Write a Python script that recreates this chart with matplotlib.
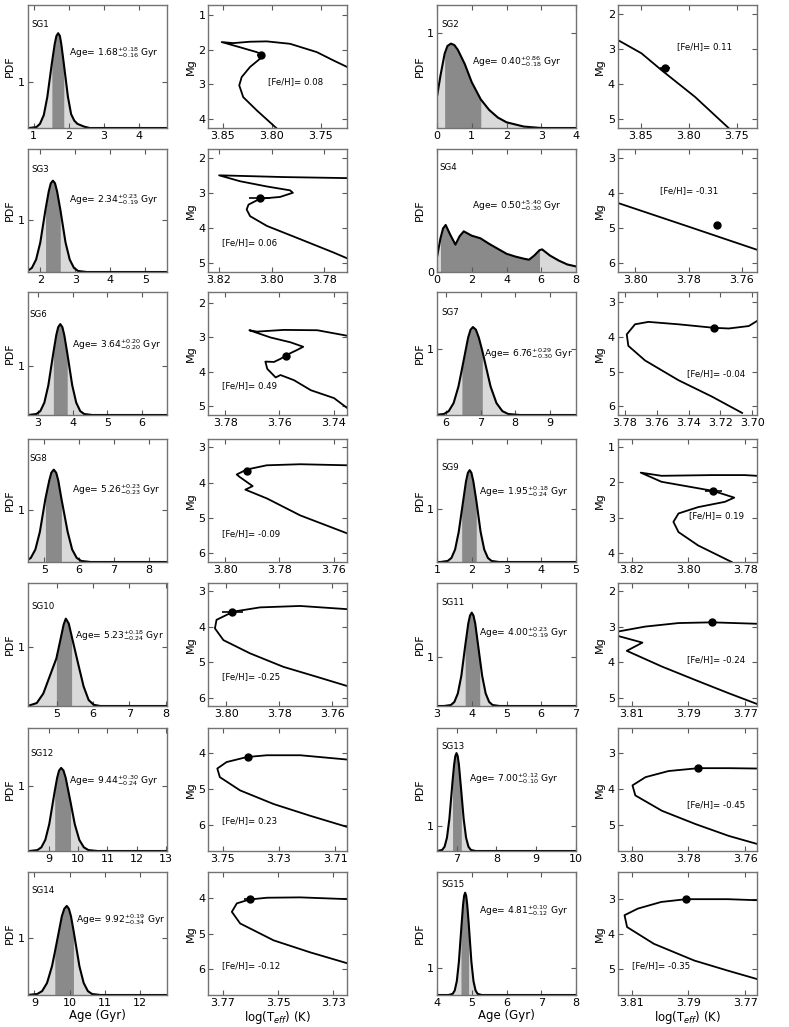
import matplotlib
matplotlib.use("Agg")
import matplotlib.pyplot as plt
from matplotlib.ticker import MultipleLocator, FormatStrFormatter
import numpy as np

plt.rcParams['mathtext.default'] = 'regular'

# ---- stars (panel order: row by row, left pair then right pair) ----
names = ['SG1', 'SG2', 'SG3', 'SG4', 'SG6', 'SG7', 'SG8',
         'SG9', 'SG10', 'SG11', 'SG12', 'SG13', 'SG14', 'SG15']
ages = [1.68, 0.40, 2.34, 0.50, 3.64, 6.76, 5.26, 1.95, 5.23, 4.00, 9.44, 7.00, 9.92, 4.81]
age_hi = [0.18, 0.86, 0.23, 5.40, 0.20, 0.29, 0.23, 0.18, 0.18, 0.23, 0.30, 0.12, 0.19, 0.10]
age_lo = [0.16, 0.18, 0.19, 0.30, 0.20, 0.30, 0.23, 0.24, 0.24, 0.19, 0.24, 0.10, 0.34, 0.12]
feh = ['0.08', '0.11', '0.06', '-0.31', '0.49', '-0.04', '-0.09',
       '0.19', '-0.25', '-0.24', '0.23', '-0.45', '-0.12', '-0.35']

# ---- age PDFs ----
pdf_age = [
    [0.83, 0.87, 1.08, 1.18, 1.29, 1.39, 1.52, 1.60, 1.65, 1.70, 1.75, 1.79, 1.86, 1.98, 2.07, 2.16,
     2.25, 2.44, 2.60, 4.80],
    [0, 0.1, 0.22, 0.3, 0.4, 0.5, 0.6, 0.8, 1.0, 1.26, 1.5, 1.75, 2.0, 2.5, 3.0, 4.0],
    [1.40, 1.64, 1.76, 1.88, 2.00, 2.15, 2.24, 2.30, 2.36, 2.42, 2.48, 2.57, 2.72, 2.84, 2.96, 3.08,
     3.32, 5.61],
    [0, 0.2, 0.35, 0.5, 0.75, 1.06, 1.3, 1.54, 2.0, 2.5, 3.0, 3.5, 4.0, 4.5, 5.0, 5.3, 5.6, 5.9,
     6.05, 6.5, 7.0, 7.5, 8.0],
    [2.70, 2.72, 2.95, 3.065, 3.18, 3.295, 3.44, 3.525, 3.58, 3.64, 3.70, 3.755, 3.84, 3.985, 4.10,
     4.215, 4.33, 4.56, 6.71],
    [5.66, 5.94, 6.08, 6.22, 6.36, 6.46, 6.64, 6.71, 6.78, 6.865, 6.95, 7.05, 7.29, 7.46, 7.63, 7.80,
     8.14, 9.76],
    [4.21, 4.48, 4.61, 4.74, 4.87, 5.03, 5.14, 5.20, 5.27, 5.34, 5.40, 5.49, 5.67, 5.80, 5.93, 6.06,
     6.33, 8.52],
    [1.0, 1.10, 1.31, 1.415, 1.52, 1.625, 1.71, 1.835, 1.89, 1.94, 1.99, 2.045, 2.13, 2.255, 2.36,
     2.465, 2.57, 2.78, 5.0],
    [4.20, 4.45, 4.63, 4.77, 4.99, 5.10, 5.19, 5.25, 5.33, 5.41, 5.61, 5.74, 5.88, 6.02, 6.20, 8.03],
    [3.0, 3.20, 3.40, 3.50, 3.60, 3.70, 3.81, 3.90, 3.95, 4.00, 4.05, 4.10, 4.23, 4.30, 4.40, 4.50,
     4.60, 4.80, 7.0],
    [8.28, 8.34, 8.61, 8.745, 8.88, 9.015, 9.20, 9.285, 9.35, 9.42, 9.50, 9.575, 9.74, 9.885, 10.04,
     10.195, 10.35, 10.66, 13.02],
    [6.51, 6.52, 6.64, 6.70, 6.76, 6.82, 6.90, 6.94, 6.97, 7.00, 7.03, 7.06, 7.12, 7.18, 7.24, 7.30,
     7.36, 7.48, 10.0],
    [8.80, 9.08, 9.22, 9.36, 9.50, 9.58, 9.78, 9.85, 9.92, 9.98, 10.04, 10.11, 10.28, 10.40, 10.52,
     10.64, 10.88, 12.76],
    [4.0, 4.33, 4.45, 4.51, 4.57, 4.63, 4.69, 4.75, 4.78, 4.81, 4.84, 4.87, 4.91, 4.99, 5.05, 5.11,
     5.17, 5.29, 8.0],
]
pdf_val = [
    [0, 0, 0.02, 0.09, 0.28, 0.67, 1.40, 1.81, 1.99, 2.05, 1.99, 1.81, 1.40, 0.67, 0.30, 0.16,
     0.09, 0.03, 0, 0],
    [0.33, 0.55, 0.78, 0.86, 0.885, 0.87, 0.82, 0.67, 0.48, 0.30, 0.19, 0.11, 0.06, 0.015, 0.0, 0.0],
    [0, 0.02, 0.08, 0.24, 0.57, 1.21, 1.55, 1.71, 1.76, 1.71, 1.55, 1.21, 0.57, 0.24, 0.08, 0.02,
     0, 0],
    [0.075, 0.17, 0.22, 0.237, 0.19, 0.138, 0.18, 0.205, 0.183, 0.17, 0.142, 0.117, 0.092, 0.078,
     0.067, 0.062, 0.083, 0.11, 0.114, 0.083, 0.058, 0.038, 0.028],
    [0, 0, 0.02, 0.08, 0.25, 0.60, 1.26, 1.62, 1.78, 1.84, 1.78, 1.62, 1.26, 0.60, 0.25, 0.08, 0.02,
     0, 0],
    [0, 0.015, 0.059, 0.18, 0.43, 0.69, 1.17, 1.29, 1.33, 1.29, 1.17, 0.97, 0.43, 0.18, 0.059,
     0.015, 0, 0],
    [0, 0.02, 0.08, 0.24, 0.58, 1.22, 1.57, 1.72, 1.78, 1.72, 1.57, 1.22, 0.58, 0.24, 0.08, 0.02,
     0, 0],
    [0, 0, 0.02, 0.077, 0.235, 0.57, 0.96, 1.53, 1.69, 1.74, 1.69, 1.53, 1.17, 0.57, 0.235, 0.077,
     0.02, 0, 0],
    [0, 0.05, 0.21, 0.44, 0.80, 1.11, 1.37, 1.47, 1.39, 1.18, 0.66, 0.33, 0.10, 0.02, 0, 0],
    [0, 0, 0.02, 0.083, 0.255, 0.61, 1.21, 1.67, 1.83, 1.89, 1.83, 1.67, 0.98, 0.61, 0.255, 0.083,
     0.02, 0, 0],
    [0, 0, 0.014, 0.056, 0.17, 0.41, 0.91, 1.12, 1.23, 1.27, 1.23, 1.12, 0.75, 0.41, 0.17, 0.056,
     0.014, 0, 0],
    [0, 0, 0.043, 0.17, 0.53, 1.27, 2.77, 3.44, 3.78, 3.9, 3.78, 3.44, 2.37, 1.27, 0.53, 0.17,
     0.043, 0, 0],
    [0, 0.017, 0.068, 0.21, 0.50, 0.74, 1.37, 1.50, 1.55, 1.50, 1.37, 1.13, 0.50, 0.21, 0.068,
     0.017, 0, 0],
    [0, 0, 0.042, 0.17, 0.52, 1.25, 2.35, 3.40, 3.74, 3.86, 3.74, 3.40, 2.74, 1.25, 0.52, 0.17,
     0.042, 0, 0],
]
pdf_xlim = [(0.83, 4.80), (0, 4), (1.64, 5.61), (0, 8), (2.70, 6.71), (5.74, 9.76), (4.52, 8.52),
            (1, 5), (4.20, 8.03), (3, 7), (8.28, 13.02), (6.51, 10.0), (8.81, 12.76), (4, 8)]
pdf_ymax = [2.66, 1.29, 2.37, 0.62, 2.49, 1.86, 2.37, 2.33, 2.07, 2.49, 1.88, 4.9, 2.14, 4.64]

# ---- isochrones and stars in the HR diagram ----
iso_teff = [
    [3.7227, 3.7368, 3.7538, 3.7812, 3.8051, 3.8223, 3.8394, 3.8513, 3.8325, 3.8154, 3.8086, 3.8120,
     3.8223, 3.8308, 3.8333, 3.8292, 3.8154, 3.7950],
    [3.8743, 3.8496, 3.8287, 3.7939, 3.7588],
    [3.7712, 3.7955, 3.8200, 3.8120, 3.8018, 3.7930, 3.7919, 3.7968, 3.8044, 3.8088, 3.8095, 3.8082,
     3.8018, 3.7891, 3.7765, 3.7712],
    [3.8065, 3.7800, 3.7545],
    [3.7349, 3.7460, 3.7584, 3.7683, 3.7711, 3.7633, 3.7559, 3.7512, 3.7534, 3.7571, 3.7596, 3.7620,
     3.7652, 3.7645, 3.7614, 3.7596, 3.7546, 3.7484, 3.7398, 3.7349],
    [3.6971, 3.7021, 3.7147, 3.7242, 3.7463, 3.7653, 3.7737, 3.7789, 3.7779, 3.7674, 3.7463, 3.7253, 3.7063],
    [3.7549, 3.7723, 3.7847, 3.7921, 3.7958, 3.7947, 3.7899, 3.7926, 3.7846, 3.7723, 3.7549],
    [3.7760, 3.7802, 3.7919, 3.8095, 3.8168, 3.8095, 3.7913, 3.7839, 3.7872, 3.7966, 3.8035, 3.8053,
     3.8035, 3.7966, 3.7848],
    [3.7543, 3.7721, 3.7872, 3.7973, 3.8036, 3.8042, 3.8010, 3.7910, 3.7784, 3.7658, 3.7543],
    [3.7660, 3.7817, 3.7935, 3.8053, 3.8149, 3.8180, 3.8149, 3.8062, 3.8117, 3.7994, 3.7876, 3.7759, 3.7660],
    [3.7057, 3.7224, 3.7343, 3.7414, 3.7486, 3.7519, 3.7510, 3.7438, 3.7319, 3.7188, 3.7057],
    [3.7560, 3.7659, 3.7765, 3.7870, 3.7951, 3.7997, 3.7987, 3.7893, 3.7775, 3.7658, 3.7560],
    [3.7250, 3.7420, 3.7540, 3.7603, 3.7649, 3.7667, 3.7637, 3.7516, 3.7384, 3.7250],
    [3.7660, 3.7761, 3.7908, 3.7996, 3.8078, 3.8125, 3.8116, 3.8022, 3.7880, 3.7762, 3.7660],
]
iso_mg = [
    [2.50, 2.31, 2.07, 1.83, 1.76, 1.77, 1.81, 1.78, 1.93, 2.07, 2.16, 2.26, 2.50, 2.79, 3.03, 3.37, 3.75, 4.27],
    [2.74, 3.12, 3.60, 4.36, 5.25],
    [2.57, 2.54, 2.49, 2.66, 2.81, 2.92, 2.99, 3.11, 3.16, 3.33, 3.47, 3.66, 3.94, 4.32, 4.70, 4.87],
    [4.28, 4.96, 5.62],
    [2.95, 2.79, 2.78, 2.83, 2.79, 3.00, 3.14, 3.27, 3.36, 3.50, 3.62, 3.71, 3.70, 3.91, 4.16, 4.09,
     4.24, 4.53, 4.76, 5.05],
    [3.55, 3.69, 3.76, 3.74, 3.64, 3.57, 3.64, 3.93, 4.26, 4.68, 5.25, 5.72, 6.19],
    [3.51, 3.48, 3.51, 3.63, 3.77, 3.84, 4.10, 4.20, 4.45, 4.93, 5.44],
    [1.81, 1.79, 1.79, 1.81, 1.72, 1.98, 2.24, 2.43, 2.55, 2.70, 2.88, 3.12, 3.41, 3.79, 4.26],
    [3.51, 3.42, 3.46, 3.58, 3.81, 4.05, 4.38, 4.75, 5.13, 5.41, 5.67],
    [2.92, 2.88, 2.90, 3.00, 3.14, 3.20, 3.26, 3.45, 3.68, 4.12, 4.50, 4.87, 5.17],
    [4.17, 4.05, 4.05, 4.10, 4.24, 4.42, 4.66, 5.03, 5.41, 5.74, 6.05],
    [3.42, 3.41, 3.41, 3.49, 3.66, 3.89, 4.17, 4.60, 4.97, 5.30, 5.52],
    [4.02, 3.97, 3.98, 4.03, 4.14, 4.38, 4.71, 5.19, 5.53, 5.84],
    [3.03, 3.00, 3.00, 3.08, 3.27, 3.46, 3.80, 4.28, 4.76, 5.05, 5.29],
]
star_teff = [3.8113, 3.8253, 3.8046, 3.7694, 3.7577, 3.7242, 3.7919,
             3.7913, 3.7976, 3.7817, 3.7411, 3.7765, 3.7603, 3.7908]
star_teff_err = [0.004, 0.005, 0.004, 0, 0, 0, 0, 0.003, 0.004, 0, 0, 0, 0.002, 0]
star_mg = [2.14, 3.55, 3.14, 4.91, 3.54, 3.74, 3.68, 2.24, 3.58, 2.88, 4.10, 3.41, 4.03, 3.00]

hr_xlim = [(3.865, 3.7226), (3.8743, 3.7295), (3.8241, 3.7712), (3.8065, 3.7545), (3.7863, 3.7349),
           (3.7846, 3.6971), (3.8063, 3.7549), (3.8249, 3.776), (3.8067, 3.7543), (3.8149, 3.766),
           (3.7551, 3.7057), (3.8049, 3.756), (3.7752, 3.725), (3.8149, 3.766)]
hr_ylim = [(4.26, 0.71), (5.25, 1.744), (5.26, 1.736), (6.26, 2.736), (5.25, 1.68), (6.25, 2.71),
           (6.25, 2.765), (4.26, 0.764), (6.23, 2.775), (5.23, 1.775), (6.72, 3.29), (5.72, 2.29),
           (6.74, 3.25), (5.75, 2.22)]
hr_xticks = [[3.85, 3.80, 3.75], [3.85, 3.80, 3.75], [3.82, 3.80, 3.78], [3.80, 3.78, 3.76],
             [3.78, 3.76, 3.74], [3.78, 3.76, 3.74, 3.72, 3.70], [3.80, 3.78, 3.76],
             [3.82, 3.80, 3.78], [3.80, 3.78, 3.76], [3.81, 3.79, 3.77], [3.75, 3.73, 3.71],
             [3.80, 3.78, 3.76], [3.77, 3.75, 3.73], [3.81, 3.79, 3.77]]

# label placement (axes fraction)
sg_pos = [(0.03, 0.84), (0.03, 0.84), (0.03, 0.83), (0.015, 0.85), (0.01, 0.82), (0.03, 0.83),
          (0.01, 0.84), (0.03, 0.77), (0.03, 0.81), (0.03, 0.84), (0.02, 0.79), (0.03, 0.85),
          (0.03, 0.85), (0.03, 0.90)]
age_pos = [(0.30, 0.61), (0.255, 0.54), (0.30, 0.59), (0.255, 0.54), (0.32, 0.57), (0.34, 0.50),
           (0.32, 0.59), (0.30, 0.57), (0.34, 0.57), (0.30, 0.60), (0.30, 0.57), (0.23, 0.59),
           (0.35, 0.61), (0.30, 0.69)]
feh_pos = [(0.43, 0.38), (0.43, 0.66), (0.10, 0.24), (0.305, 0.66), (0.10, 0.24), (0.50, 0.34),
           (0.10, 0.23), (0.51, 0.38), (0.10, 0.24), (0.50, 0.38), (0.10, 0.25), (0.50, 0.38),
           (0.10, 0.24), (0.105, 0.24)]

light = '#d9d9d9'
dark = '#8a8a8a'

FW, FH = 789, 1027
col_left = [27.7, 208.3, 437.0, 617.7]
row_top = [5, 149, 292, 439, 583, 728, 872]
PW, PH = 139, 123

fig = plt.figure(figsize=(FW / 100, FH / 100), dpi=100)


def frame(ax):
    ax.tick_params(direction='in', top=True, right=True, length=3.5, width=0.8,
                   color='0.35', labelsize=8, pad=2)
    for s in ax.spines.values():
        s.set_color('0.45')
        s.set_linewidth(1.0)


for i, name in enumerate(names):
    row, side = divmod(i, 2)
    top = row_top[row]
    bottom = 1 - (top + PH) / FH
    ax_p = fig.add_axes([col_left[2 * side] / FW, bottom, PW / FW, PH / FH])
    ax_h = fig.add_axes([col_left[2 * side + 1] / FW, bottom, PW / FW, PH / FH])

    # age PDF
    x = np.array(pdf_age[i])
    y = np.array(pdf_val[i])
    lo = ages[i] - age_lo[i]
    hi = ages[i] + age_hi[i]
    ax_p.fill_between(x, 0, y, color=light, lw=0)
    m = (x >= lo - 1e-6) & (x <= hi + 1e-6)
    ax_p.fill_between(x[m], 0, y[m], color=dark, lw=0)
    ax_p.plot(x, y, color='k', lw=1.5)
    ax_p.set_xlim(pdf_xlim[i])
    ax_p.set_ylim(0, pdf_ymax[i])
    ax_p.xaxis.set_major_locator(MultipleLocator(2 if name == 'SG4' else 1))
    ax_p.set_yticks([0] if name == 'SG4' else [1])
    frame(ax_p)
    ax_p.set_ylabel('PDF', fontsize=8, labelpad=2)
    ax_p.text(*sg_pos[i], name, transform=ax_p.transAxes, fontsize=6.2, va='center')
    age_txt = rf"Age= {ages[i]:.2f}$^{{+{age_hi[i]:.2f}}}_{{-{age_lo[i]:.2f}}}$ Gyr"
    ax_p.text(*age_pos[i], age_txt, transform=ax_p.transAxes, fontsize=6.6, va='center')

    # HR diagram
    ax_h.plot(iso_teff[i], iso_mg[i], color='k', lw=1.3)
    err = star_teff_err[i] if star_teff_err[i] > 0 else None
    ax_h.errorbar(star_teff[i], star_mg[i], xerr=err, fmt='o', color='k', ms=5,
                  elinewidth=1.2, capsize=0, zorder=3)
    ax_h.set_xlim(hr_xlim[i])
    ax_h.set_ylim(hr_ylim[i])
    ax_h.set_xticks(hr_xticks[i])
    ax_h.xaxis.set_major_formatter(FormatStrFormatter('%.2f'))
    ax_h.yaxis.set_major_locator(MultipleLocator(1))
    ax_h.yaxis.set_major_formatter(FormatStrFormatter('%d'))
    frame(ax_h)
    ax_h.set_ylabel('Mg', fontsize=8, labelpad=2)
    ax_h.text(*feh_pos[i], f"[Fe/H]= {feh[i]}", transform=ax_h.transAxes, fontsize=6.2, va='center')

    if row == len(row_top) - 1:
        ax_p.set_xlabel('Age (Gyr)', fontsize=8.5, labelpad=1)
        ax_h.set_xlabel(r'log(T$_{\mathit{eff}}$) (K)', fontsize=8.5, labelpad=1)

fig.savefig('out.png', dpi=100)
